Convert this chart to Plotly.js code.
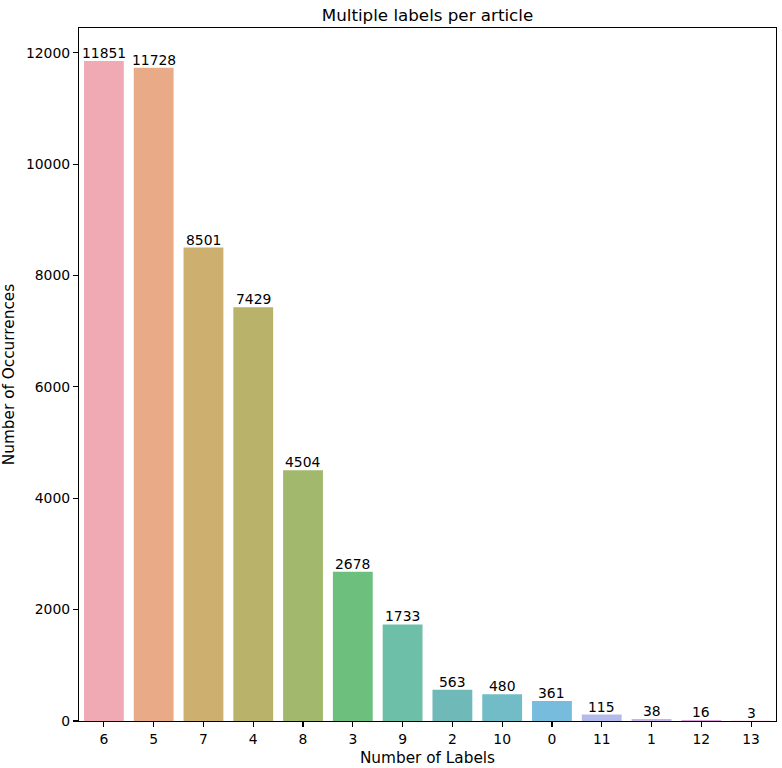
<!DOCTYPE html>
<html>
<head>
<meta charset="utf-8">
<script src="https://cdn.plot.ly/plotly-3.0.1.min.js"></script>
<style>html,body{margin:0;padding:0;background:#fff;}#chart{width:782px;height:768px;}</style>
</head>
<body>
<div id="chart"></div>
<script>
const categories = ["6","5","7","4","8","3","9","2","10","0","11","1","12","13"];
const counts = [11851,11728,8501,7429,4504,2678,1733,563,480,361,115,38,16,3];
const yTicks = [0,2000,4000,6000,8000,10000,12000];
const barColors = ["#efaab4","#e9aa88","#cdaf6f","#b8b26b","#a1b86d","#6cbf7c","#6ebfa7","#6fbab8","#72bcc7","#77bbdd","#b4bbeb","#c9b2e7","#dea0e0","#eda3c9"];

const font = "DejaVu Sans, sans-serif";
const maxY = Math.max(...counts) * 1.05;

const trace = {
  type: "bar",
  x: categories,
  y: counts,
  width: 0.8,
  marker: {color: barColors, line: {width: 0}},
  hoverinfo: "x+y"
};

const annotations = categories.map((c, i) => ({
  x: i, y: counts[i], xref: "x", yref: "y",
  text: String(counts[i]), showarrow: false,
  yanchor: "bottom", xanchor: "center", yshift: -2,
  font: {family: font, size: 13.9, color: "#000"}
}));

const layout = {
  width: 782, height: 768,
  margin: {l: 79, r: 6, t: 28, b: 47, pad: 0},
  paper_bgcolor: "#fff", plot_bgcolor: "#fff",
  showlegend: false,
  title: {text: "Multiple labels per article", x: 0.5, xref: "paper", y: 1, yref: "paper", yanchor: "bottom", pad: {b: 7}, font: {family: font, size: 16.7, color: "#000"}},
  xaxis: {
    type: "category", range: [-0.5, 13.5],
    showgrid: false, zeroline: false,
    showline: true, linecolor: "#000", linewidth: 1.1, mirror: true,
    ticks: "outside", ticklen: 5, tickwidth: 1.1, tickcolor: "#000",
    tickfont: {family: font, size: 13.9, color: "#000"},
    title: {text: "Number of Labels", font: {family: font, size: 15.3, color: "#000"}, standoff: 6}
  },
  yaxis: {
    range: [0, maxY], tickmode: "array", tickvals: yTicks, ticktext: yTicks.map(String),
    showgrid: false, zeroline: false,
    showline: true, linecolor: "#000", linewidth: 1.1, mirror: true,
    ticks: "outside", ticklen: 5, tickwidth: 1.1, tickcolor: "#000",
    tickfont: {family: font, size: 13.9, color: "#000"},
    title: {text: "Number of Occurrences", font: {family: font, size: 15.3, color: "#000"}, standoff: 8}
  },
  annotations: annotations
};

Plotly.newPlot("chart", [trace], layout, {displayModeBar: false, staticPlot: true});
</script>
</body>
</html>
